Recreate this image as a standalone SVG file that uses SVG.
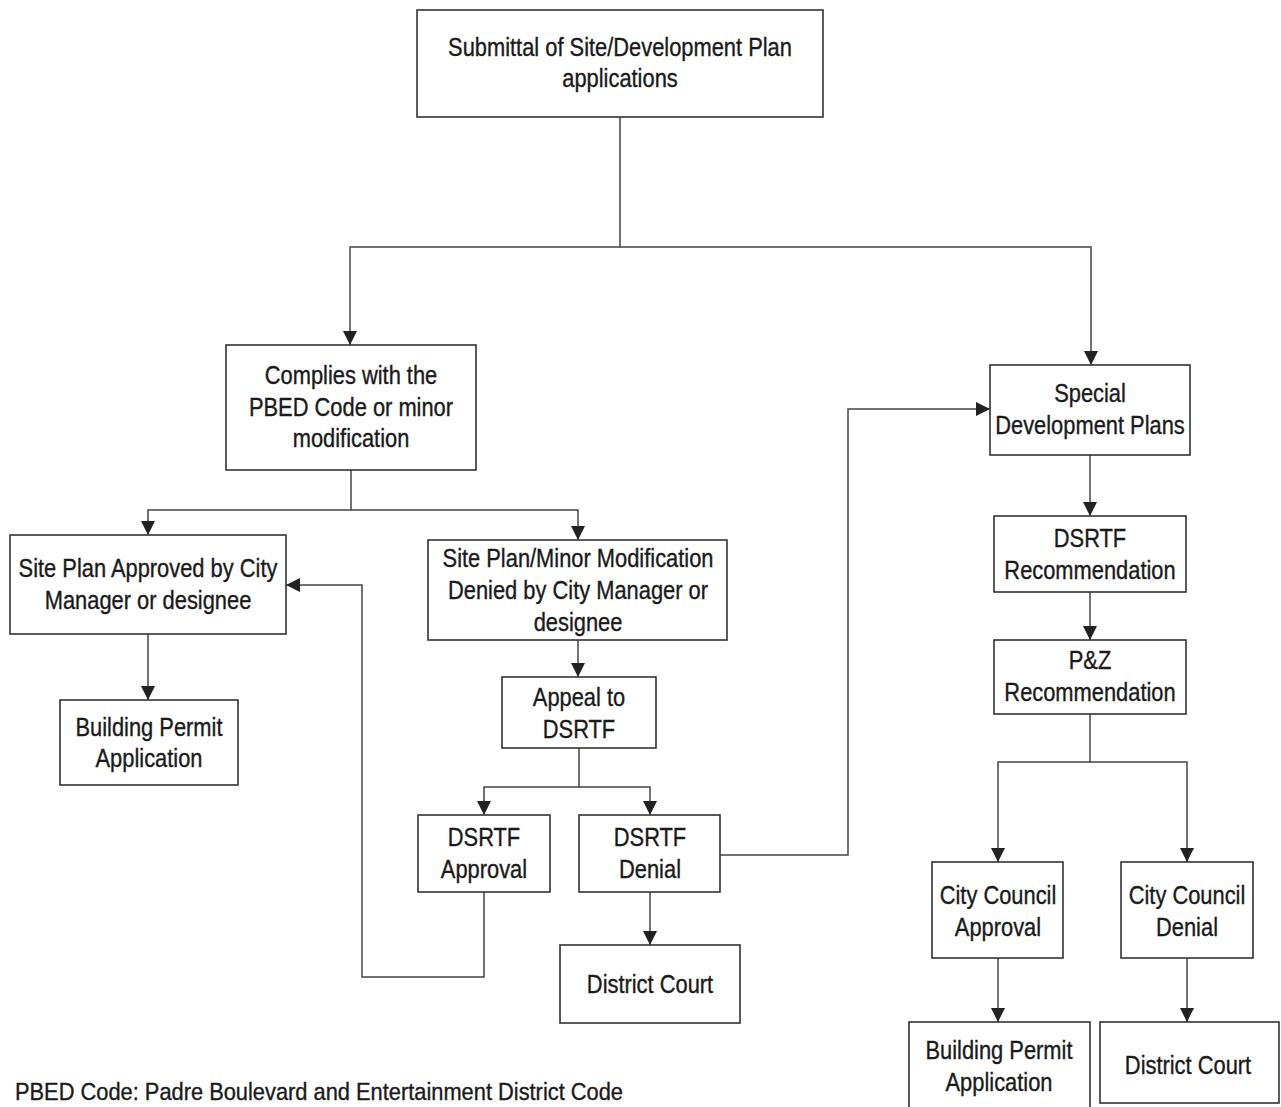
<svg xmlns="http://www.w3.org/2000/svg" width="1281" height="1107" viewBox="0 0 1281 1107">
<style>
.box{fill:#fff;stroke:#333;stroke-width:1.6}
.t{font-family:"Liberation Sans",Arial,sans-serif;font-size:25px;text-anchor:middle;fill:#1a1a1a;stroke:#1a1a1a;stroke-width:0.35}
.f{font-family:"Liberation Sans",Arial,sans-serif;font-size:24px;fill:#1a1a1a;stroke:#1a1a1a;stroke-width:0.35}
.c{fill:none;stroke:#444;stroke-width:1.5}
.a{marker-end:url(#arr)}
</style>
<defs>
<marker id="arr" markerUnits="userSpaceOnUse" markerWidth="14" markerHeight="14" refX="14" refY="7" orient="auto">
<path d="M0,0 L14,7 L0,14 z" fill="#222"/>
</marker>
</defs>
<rect width="1281" height="1107" fill="#fff"/>
<g id="connectors">
<path class="c a" d="M620,117 V247 H350 V345"/>
<path class="c a" d="M620,247 H1091 V365"/>
<path class="c a" d="M351,470 V510 H148 V535"/>
<path class="c a" d="M351,510 H578 V540"/>
<path class="c a" d="M148,634 V700"/>
<path class="c a" d="M578,640 V677"/>
<path class="c a" d="M579,748 V787 H484 V815"/>
<path class="c a" d="M579,787 H650 V815"/>
<path class="c a" d="M484,892 V977 H362 V585 H286"/>
<path class="c a" d="M720,855 H848 V409 H990"/>
<path class="c a" d="M650,892 V945"/>
<path class="c a" d="M1090,455 V516"/>
<path class="c a" d="M1090,592 V640"/>
<path class="c a" d="M1090,714 V762 H998 V862"/>
<path class="c a" d="M1090,762 H1187 V862"/>
<path class="c a" d="M998,958 V1022"/>
<path class="c a" d="M1187,958 V1022"/>
</g>
<g id="n-submittal"><rect class="box" x="417" y="10" width="406" height="107"/>
<text class="t" transform="translate(620 0) scale(0.875 1)"><tspan x="0" y="56">Submittal of Site/Development Plan</tspan><tspan x="0" y="87">applications</tspan></text></g>
<g id="n-complies"><rect class="box" x="226" y="345" width="250" height="125"/>
<text class="t" transform="translate(351 0) scale(0.875 1)"><tspan x="0" y="384">Complies with the</tspan><tspan x="0" y="416">PBED Code or minor</tspan><tspan x="0" y="447">modification</tspan></text></g>
<g id="n-special"><rect class="box" x="990" y="365" width="200" height="90"/>
<text class="t" transform="translate(1090 0) scale(0.875 1)"><tspan x="0" y="402">Special</tspan><tspan x="0" y="434">Development Plans</tspan></text></g>
<g id="n-approved"><rect class="box" x="10" y="535" width="276" height="99"/>
<text class="t" transform="translate(148 0) scale(0.875 1)"><tspan x="0" y="577">Site Plan Approved by City</tspan><tspan x="0" y="609">Manager or designee</tspan></text></g>
<g id="n-denied"><rect class="box" x="428" y="540" width="299" height="100"/>
<text class="t" transform="translate(578 0) scale(0.875 1)"><tspan x="0" y="567">Site Plan/Minor Modification</tspan><tspan x="0" y="599">Denied by City Manager or</tspan><tspan x="0" y="631">designee</tspan></text></g>
<g id="n-bp1"><rect class="box" x="60" y="700" width="178" height="85"/>
<text class="t" transform="translate(149 0) scale(0.875 1)"><tspan x="0" y="736">Building Permit</tspan><tspan x="0" y="767">Application</tspan></text></g>
<g id="n-appeal"><rect class="box" x="502" y="677" width="154" height="71"/>
<text class="t" transform="translate(579 0) scale(0.875 1)"><tspan x="0" y="706">Appeal to</tspan><tspan x="0" y="738">DSRTF</tspan></text></g>
<g id="n-dapproval"><rect class="box" x="418" y="815" width="132" height="77"/>
<text class="t" transform="translate(484 0) scale(0.875 1)"><tspan x="0" y="846">DSRTF</tspan><tspan x="0" y="878">Approval</tspan></text></g>
<g id="n-ddenial"><rect class="box" x="579" y="815" width="141" height="77"/>
<text class="t" transform="translate(650 0) scale(0.875 1)"><tspan x="0" y="846">DSRTF</tspan><tspan x="0" y="878">Denial</tspan></text></g>
<g id="n-court1"><rect class="box" x="560" y="945" width="180" height="78"/>
<text class="t" transform="translate(650 0) scale(0.875 1)"><tspan x="0" y="993">District Court</tspan></text></g>
<g id="n-drec"><rect class="box" x="994" y="516" width="192" height="76"/>
<text class="t" transform="translate(1090 0) scale(0.875 1)"><tspan x="0" y="547">DSRTF</tspan><tspan x="0" y="579">Recommendation</tspan></text></g>
<g id="n-pz"><rect class="box" x="994" y="640" width="192" height="74"/>
<text class="t" transform="translate(1090 0) scale(0.875 1)"><tspan x="0" y="669">P&amp;Z</tspan><tspan x="0" y="701">Recommendation</tspan></text></g>
<g id="n-ccapproval"><rect class="box" x="932" y="862" width="131" height="96"/>
<text class="t" transform="translate(998 0) scale(0.875 1)"><tspan x="0" y="904">City Council</tspan><tspan x="0" y="936">Approval</tspan></text></g>
<g id="n-ccdenial"><rect class="box" x="1121" y="862" width="132" height="96"/>
<text class="t" transform="translate(1187 0) scale(0.875 1)"><tspan x="0" y="904">City Council</tspan><tspan x="0" y="936">Denial</tspan></text></g>
<g id="n-bp2"><rect class="box" x="909" y="1022" width="181" height="90"/>
<text class="t" transform="translate(999 0) scale(0.875 1)"><tspan x="0" y="1059">Building Permit</tspan><tspan x="0" y="1091">Application</tspan></text></g>
<g id="n-court2"><rect class="box" x="1100" y="1022" width="179" height="81"/>
<text class="t" transform="translate(1188 0) scale(0.875 1)"><tspan x="0" y="1074">District Court</tspan></text></g>
<text class="f" transform="translate(15 0) scale(0.91 1)" x="0" y="1100">PBED Code: Padre Boulevard and Entertainment District Code</text>
</svg>
